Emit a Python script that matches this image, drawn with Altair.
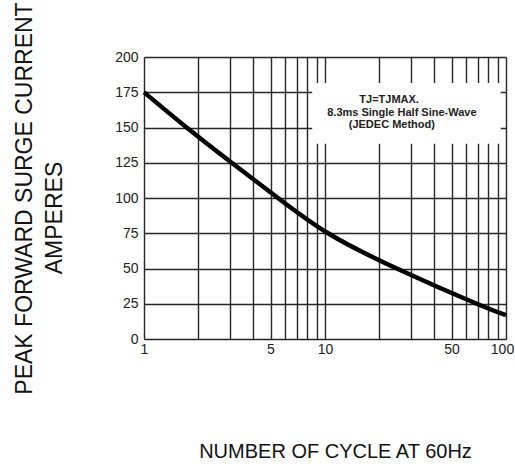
import altair as alt
import pandas as pd

# Curve data
cycles = [1, 1.72, 3.05, 5.5, 10.4, 24.9, 68.9, 100]
current = [175, 150, 125, 100, 75, 50, 25, 17]

x_grid = [1, 2, 3, 4, 5, 6, 7, 8, 9, 10, 20, 30, 40, 50, 60, 70, 80, 90, 100]
y_ticks = [0, 25, 50, 75, 100, 125, 150, 175, 200]

# annotation box (data units) and its text lines
box = pd.DataFrame({"x": [8.5], "x2": [93.5], "y": [138.5], "y2": [181.5]})
note_lines = ["TJ=TJMAX.", "8.3ms Single Half Sine-Wave", "(JEDEC Method)"]
note_x = [22.6, 26.6, 23.4]
note_y = [169.5, 160.3, 151.8]

df = pd.DataFrame({"cycles": cycles, "current": current})
notes = pd.DataFrame({"text": note_lines, "x": note_x, "y": note_y})

FONT = "Liberation Sans"
GRID = "#262626"

xscale = alt.Scale(type="log", domain=[1, 100], nice=False)
yscale = alt.Scale(domain=[0, 200], nice=False)

xaxis = alt.Axis(
    values=x_grid,
    labelExpr="indexof([1,5,10,50,100], datum.value) >= 0 ? format(datum.value, 'd') : ''",
    grid=True, gridColor=GRID, gridWidth=1.4, gridOpacity=1,
    ticks=False, domain=False, labelFlush=False, labelBound=False,
    labelOffset=alt.expr("datum.value == 100 ? -4 : 0"),
    labelFont=FONT, labelFontSize=14, labelColor="#222", labelPadding=3,
    title="NUMBER OF CYCLE AT 60Hz", titleFont=FONT, titleFontSize=20,
    titleFontWeight="normal", titleColor="#111",
    titleX=191, titleY=118, titleBaseline="alphabetic", titleAlign="center",
)
yaxis = alt.Axis(
    values=y_ticks, labelOverlap=False,
    grid=True, gridColor=GRID, gridWidth=1.4, gridOpacity=1,
    ticks=False, domain=False,
    labelFont=FONT, labelFontSize=14, labelColor="#222", labelPadding=6,
    title="PEAK FORWARD SURGE CURRENT", titleFont=FONT, titleFontSize=23,
    titleFontWeight="normal", titleColor="#111",
    titleX=-113, titleY=141, titleBaseline="alphabetic", titleAlign="center",
    titleAngle=270,
)

curve = alt.Chart(df).mark_line(color="black", strokeWidth=4.5, interpolate="natural").encode(
    x=alt.X("cycles:Q", scale=xscale, axis=xaxis),
    y=alt.Y("current:Q", scale=yscale, axis=yaxis),
)

rect = alt.Chart(box).mark_rect(fill="white").encode(
    x=alt.X("x:Q", scale=xscale, axis=xaxis),
    x2="x2:Q",
    y=alt.Y("y:Q", scale=yscale, axis=yaxis),
    y2="y2:Q",
)

note = alt.Chart(notes).mark_text(
    font=FONT, fontSize=11, fontWeight="bold", color="#222", align="center", baseline="middle"
).encode(
    x=alt.X("x:Q", scale=xscale, axis=xaxis),
    y=alt.Y("y:Q", scale=yscale, axis=yaxis),
    text="text:N",
)

amperes = alt.Chart(pd.DataFrame({"t": ["AMPERES"]})).mark_text(
    font=FONT, fontSize=23, color="#111", angle=270, align="center", baseline="alphabetic"
).encode(x=alt.value(-82), y=alt.value(161), text="t:N")

chart = alt.layer(rect, curve, note, amperes).properties(
    width=362, height=282,
    autosize=alt.AutoSizeParams(type="none"),
    padding={"left": 144, "top": 57, "right": 9, "bottom": 125},
).configure_view(stroke="black", strokeWidth=1.6).configure(background="white")

chart.save("out.html", embed_options={"renderer": "svg", "actions": False})
